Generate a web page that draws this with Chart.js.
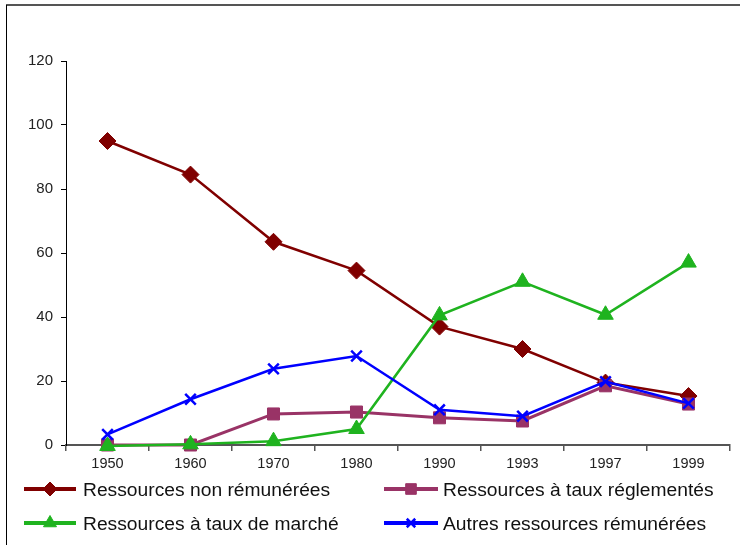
<!DOCTYPE html>
<html lang="fr">
<head>
<meta charset="utf-8">
<title>Structure des ressources</title>
<script src="https://cdn.jsdelivr.net/npm/chart.js@4/dist/chart.umd.min.js"></script>
<style>
  html, body { margin: 0; padding: 0; background: #fff; }
  canvas { display: block; }
</style>
</head>
<body>
<canvas id="chart" width="740" height="545"></canvas>
<script>
// Années
const annees = ['1950', '1960', '1970', '1980', '1990', '1993', '1997', '1999'];

// Séries (en %)
const nonRemunerees    = [95, 84.5, 63.5, 54.5, 37, 30, 19.5, 15.3];
const tauxReglementes  = [0, 0, 9.7, 10.3, 8.5, 7.5, 18.5, 12.8];
const tauxMarche       = [-0.3, 0.2, 1.2, 5, 40.5, 51, 40.7, 57];
const autresRemunerees = [3.3, 14.3, 23.8, 27.8, 11, 9, 19.8, 13];

// Libellés des séries
const libelles = [
  'Ressources non rémunérées',
  'Ressources à taux réglementés',
  'Ressources à taux de marché',
  'Autres ressources rémunérées'
];

// Graduations de l'axe vertical
const yMin = 0, yMax = 120, yPas = 20;

const FONT = '"Liberation Sans", Arial, Helvetica, sans-serif';

const styles = [
  { color: '#800000', pointStyle: 'rectRot',  radius: 8.5, legendRadius: 7,   lineWidth: 2.5, order: 4 },
  { color: '#993366', pointStyle: 'rect',     radius: 8.5, legendRadius: 7.5, lineWidth: 3,   order: 3 },
  { color: '#1fb31f', pointStyle: 'triangle', radius: 9,   legendRadius: 7.5, lineWidth: 2.5, order: 2 },
  { color: '#0000ff', pointStyle: 'crossRot', radius: 7.5, legendRadius: 6,   lineWidth: 2.5, order: 1 }
];
const series = [nonRemunerees, tauxReglementes, tauxMarche, autresRemunerees];

const datasets = series.map((data, i) => {
  const s = styles[i];
  const cross = s.pointStyle === 'crossRot';
  return {
    label: libelles[i],
    data: data,
    borderColor: s.color,
    backgroundColor: s.color,
    borderWidth: s.lineWidth,
    pointStyle: s.pointStyle,
    pointRadius: s.radius,
    pointHoverRadius: s.radius,
    pointBackgroundColor: s.color,
    pointBorderColor: s.color,
    pointBorderWidth: cross ? 2.5 : 1,
    tension: 0,
    clip: false,
    order: s.order
  };
});

// Cadre partiel autour du graphique
const cadre = {
  id: 'cadre',
  beforeDraw(chart) {
    const ctx = chart.ctx;
    ctx.save();
    ctx.strokeStyle = '#555';
    ctx.lineWidth = 2;
    ctx.beginPath();
    ctx.moveTo(6, 5);
    ctx.lineTo(740, 5);
    ctx.stroke();
    ctx.strokeStyle = '#000';
    ctx.lineWidth = 1;
    ctx.beginPath();
    ctx.moveTo(6.5, 5);
    ctx.lineTo(6.5, 545);
    ctx.stroke();
    ctx.restore();
  }
};

// Légende sur deux colonnes sous l'axe des abscisses
const legende = {
  id: 'legende',
  afterDraw(chart) {
    const ctx = chart.ctx;
    const places = [
      { x0: 24,  x1: 76,  tx: 83,  y: 489 },
      { x0: 384, x1: 438, tx: 443, y: 489 },
      { x0: 24,  x1: 76,  tx: 83,  y: 523 },
      { x0: 384, x1: 438, tx: 443, y: 523 }
    ];
    chart.data.datasets.forEach((ds, i) => {
      const p = places[i];
      const s = styles[i];
      ctx.save();
      ctx.strokeStyle = s.color;
      ctx.fillStyle = s.color;
      ctx.lineWidth = 4;
      ctx.beginPath();
      ctx.moveTo(p.x0, p.y);
      ctx.lineTo(p.x1, p.y);
      ctx.stroke();
      ctx.lineWidth = s.pointStyle === 'crossRot' ? 2.5 : 1;
      Chart.helpers.drawPoint(ctx, {
        pointStyle: s.pointStyle,
        radius: s.legendRadius,
        rotation: 0,
        borderWidth: ctx.lineWidth
      }, (p.x0 + p.x1) / 2, p.y);
      ctx.restore();

      // texte légèrement étiré horizontalement
      ctx.save();
      ctx.fillStyle = '#111';
      ctx.font = '17.5px ' + FONT;
      ctx.textAlign = 'left';
      ctx.textBaseline = 'alphabetic';
      ctx.translate(p.tx, p.y + 7);
      ctx.scale(1.1, 1);
      ctx.fillText(ds.label, 0, 0);
      ctx.restore();
    });
  }
};

new Chart(document.getElementById('chart'), {
  type: 'line',
  data: { labels: annees, datasets: datasets },
  plugins: [cadre, legende],
  options: {
    responsive: false,
    animation: false,
    events: [],
    layout: { padding: { left: 0, top: 61, right: 7, bottom: 70 } },
    plugins: {
      legend: { display: false },
      tooltip: { enabled: false },
      title: { display: false }
    },
    scales: {
      x: {
        type: 'category',
        offset: true,
        afterFit(scale) { scale.height = 30; },
        grid: {
          display: true,
          offset: true,
          drawOnChartArea: false,
          drawTicks: true,
          tickLength: 6,
          color: '#555',
          lineWidth: 1.5
        },
        border: { display: true, color: '#555', width: 2 },
        ticks: {
          color: '#222',
          font: { family: FONT, size: 14.5 },
          padding: 4,
          maxRotation: 0,
          autoSkip: false
        }
      },
      y: {
        min: yMin,
        max: yMax,
        afterFit(scale) { scale.width = 66; },
        grid: {
          display: true,
          drawOnChartArea: false,
          drawTicks: true,
          tickLength: 5,
          color: '#000',
          lineWidth: 1
        },
        border: { display: true, color: '#000', width: 1 },
        ticks: {
          stepSize: yPas,
          color: '#222',
          font: { family: FONT, size: 15 },
          padding: 8
        }
      }
    }
  }
});
</script>
</body>
</html>
